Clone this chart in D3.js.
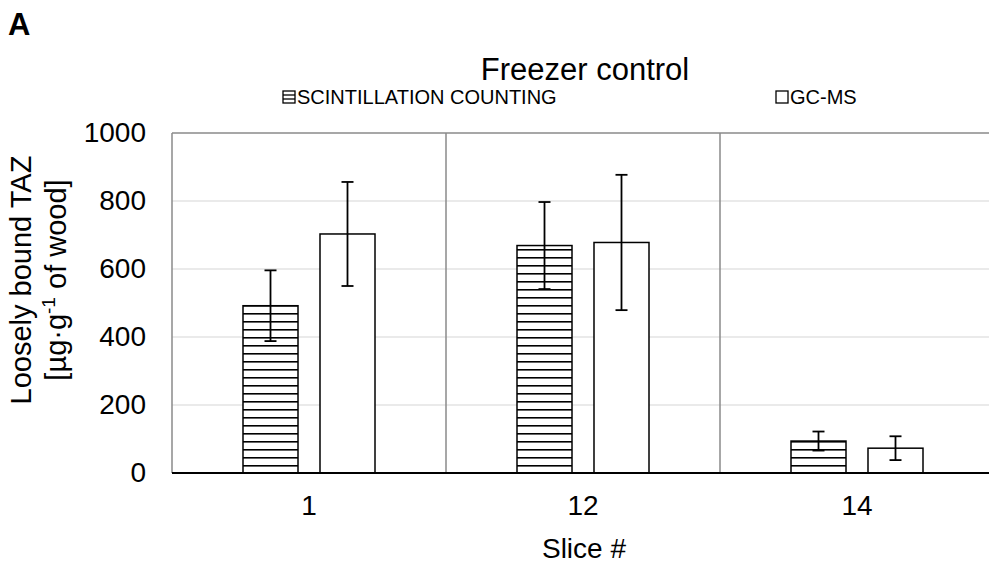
<!DOCTYPE html>
<html><head><meta charset="utf-8">
<script src="https://cdn.jsdelivr.net/npm/d3@7"></script>
<style>body{margin:0;background:#fff}svg{display:block;font-family:"Liberation Sans",Arial,sans-serif}</style>
</head><body><svg id="c" width="989" height="563"></svg>
<script>
const categories = ["1", "12", "14"];
const seriesNames = ["SCINTILLATION COUNTING", "GC-MS"];
const scintValues = [492, 669, 94];
const scintErrors = [104, 128, 28];
const gcmsValues = [703, 678, 73];
const gcmsErrors = [153, 199, 35];
const yTicks = [0, 200, 400, 600, 800, 1000];

(function () {
const svg = d3.select("#c");
const FONT = "Liberation Sans, Arial, sans-serif";
const pLeft = 172, pTop = 133, pBottom = 473, pRight = 994;
const x = d3.scaleBand().domain(categories).range([pLeft, pRight]).padding(0);
const y = d3.scaleLinear().domain([0, 1000]).range([pBottom, pTop]);
const inner = d3.scaleBand().domain(seriesNames).range([71, 203]).paddingInner(0.2857);

const defs = svg.append("defs");
const pat = defs.append("pattern").attr("id", "hatch").attr("patternUnits", "userSpaceOnUse")
  .attr("width", 8).attr("height", 8).attr("y", 1);
pat.append("rect").attr("width", 8).attr("height", 8).attr("fill", "#fff");
pat.append("rect").attr("y", 0).attr("width", 8).attr("height", 1.6).attr("fill", "#000");

// gridlines
svg.append("g").selectAll("line").data(yTicks.filter(d => d > 0 && d < 1000)).join("line")
  .attr("x1", pLeft).attr("x2", pRight).attr("y1", d => y(d)).attr("y2", d => y(d))
  .attr("stroke", "#e3e3e3").attr("stroke-width", 1.5);
svg.append("line").attr("x1", pLeft).attr("x2", pRight).attr("y1", y(1000)).attr("y2", y(1000))
  .attr("stroke", "#8a8a8a").attr("stroke-width", 1.5);
// category dividers
svg.append("g").selectAll("line").data(categories.slice(1)).join("line")
  .attr("x1", d => x(d)).attr("x2", d => x(d)).attr("y1", pTop).attr("y2", pBottom)
  .attr("stroke", "#8a8a8a").attr("stroke-width", 1.5);
// left axis
svg.append("line").attr("x1", pLeft).attr("x2", pLeft).attr("y1", pTop).attr("y2", pBottom)
  .attr("stroke", "#8a8a8a").attr("stroke-width", 1.5);

const data = [];
categories.forEach((c, i) => {
  data.push({c, s: seriesNames[0], v: scintValues[i], e: scintErrors[i]});
  data.push({c, s: seriesNames[1], v: gcmsValues[i], e: gcmsErrors[i]});
});

svg.append("g").selectAll("rect").data(data).join("rect")
  .attr("x", d => x(d.c) + inner(d.s)).attr("width", inner.bandwidth())
  .attr("y", d => y(d.v)).attr("height", d => y(0) - y(d.v))
  .attr("fill", d => d.s === seriesNames[0] ? "url(#hatch)" : "#fff")
  .attr("stroke", "#000").attr("stroke-width", 1.5);

// error bars
const eb = svg.append("g").attr("stroke", "#000").attr("stroke-width", 1.8);
data.forEach(d => {
  const cx = x(d.c) + inner(d.s) + inner.bandwidth() / 2;
  eb.append("line").attr("x1", cx).attr("x2", cx).attr("y1", y(d.v + d.e)).attr("y2", y(d.v - d.e));
  eb.append("line").attr("x1", cx - 6).attr("x2", cx + 6).attr("y1", y(d.v + d.e)).attr("y2", y(d.v + d.e));
  eb.append("line").attr("x1", cx - 6).attr("x2", cx + 6).attr("y1", y(d.v - d.e)).attr("y2", y(d.v - d.e));
});

// x axis line
svg.append("line").attr("x1", pLeft).attr("x2", pRight).attr("y1", pBottom).attr("y2", pBottom)
  .attr("stroke", "#000").attr("stroke-width", 2);

// y tick labels
const yAxis = d3.axisLeft(y).tickValues(yTicks).tickSize(0).tickPadding(26).tickFormat(d3.format("d"));
const ya = svg.append("g").attr("transform", `translate(${pLeft},0)`).call(yAxis);
ya.select(".domain").remove();
ya.selectAll("text").attr("font-size", 28).attr("fill", "#000").attr("font-family", FONT);

// x tick labels
const xAxis = d3.axisBottom(x).tickSize(0).tickPadding(22);
const xa = svg.append("g").attr("transform", `translate(0,${pBottom})`).call(xAxis);
xa.select(".domain").remove();
xa.selectAll("text").attr("font-size", 28).attr("fill", "#000").attr("font-family", FONT);

// titles
svg.append("text").attr("x", 8).attr("y", 35).attr("font-size", 31).attr("font-weight", "bold").text("A");
svg.append("text").attr("x", 585).attr("y", 80).attr("text-anchor", "middle").attr("font-size", 31).text("Freezer control");
svg.append("text").attr("x", 584).attr("y", 558).attr("text-anchor", "middle").attr("font-size", 28).text("Slice #");

const yt = svg.append("text").attr("transform", "translate(31,280) rotate(-90)").attr("text-anchor", "middle").attr("font-size", 29);
yt.append("tspan").attr("x", 0).attr("y", 0).text("Loosely bound TAZ");
const l2 = yt.append("tspan").attr("x", 0).attr("y", 35);
l2.text("[µg·g");
yt.append("tspan").attr("dy", -11).attr("font-size", 19).text("-1");
yt.append("tspan").attr("dy", 11).text(" of wood]");

// legend
const legendX = [283, 776];
const lg = svg.append("g");
seriesNames.forEach((s, i) => {
  const g = lg.append("g").attr("transform", `translate(${legendX[i]},91)`);
  g.append("rect").attr("width", 12).attr("height", 12)
    .attr("fill", "#fff").attr("stroke", "#000").attr("stroke-width", 1.3);
  if (i === 0) {
    [4, 8].forEach(yy => g.append("line").attr("x1", 0).attr("x2", 12).attr("y1", yy).attr("y2", yy)
      .attr("stroke", "#000").attr("stroke-width", 1.3));
  }
  g.append("text").attr("x", 14).attr("y", 13).attr("font-size", 20).text(s);
});
})();
</script></body></html>
